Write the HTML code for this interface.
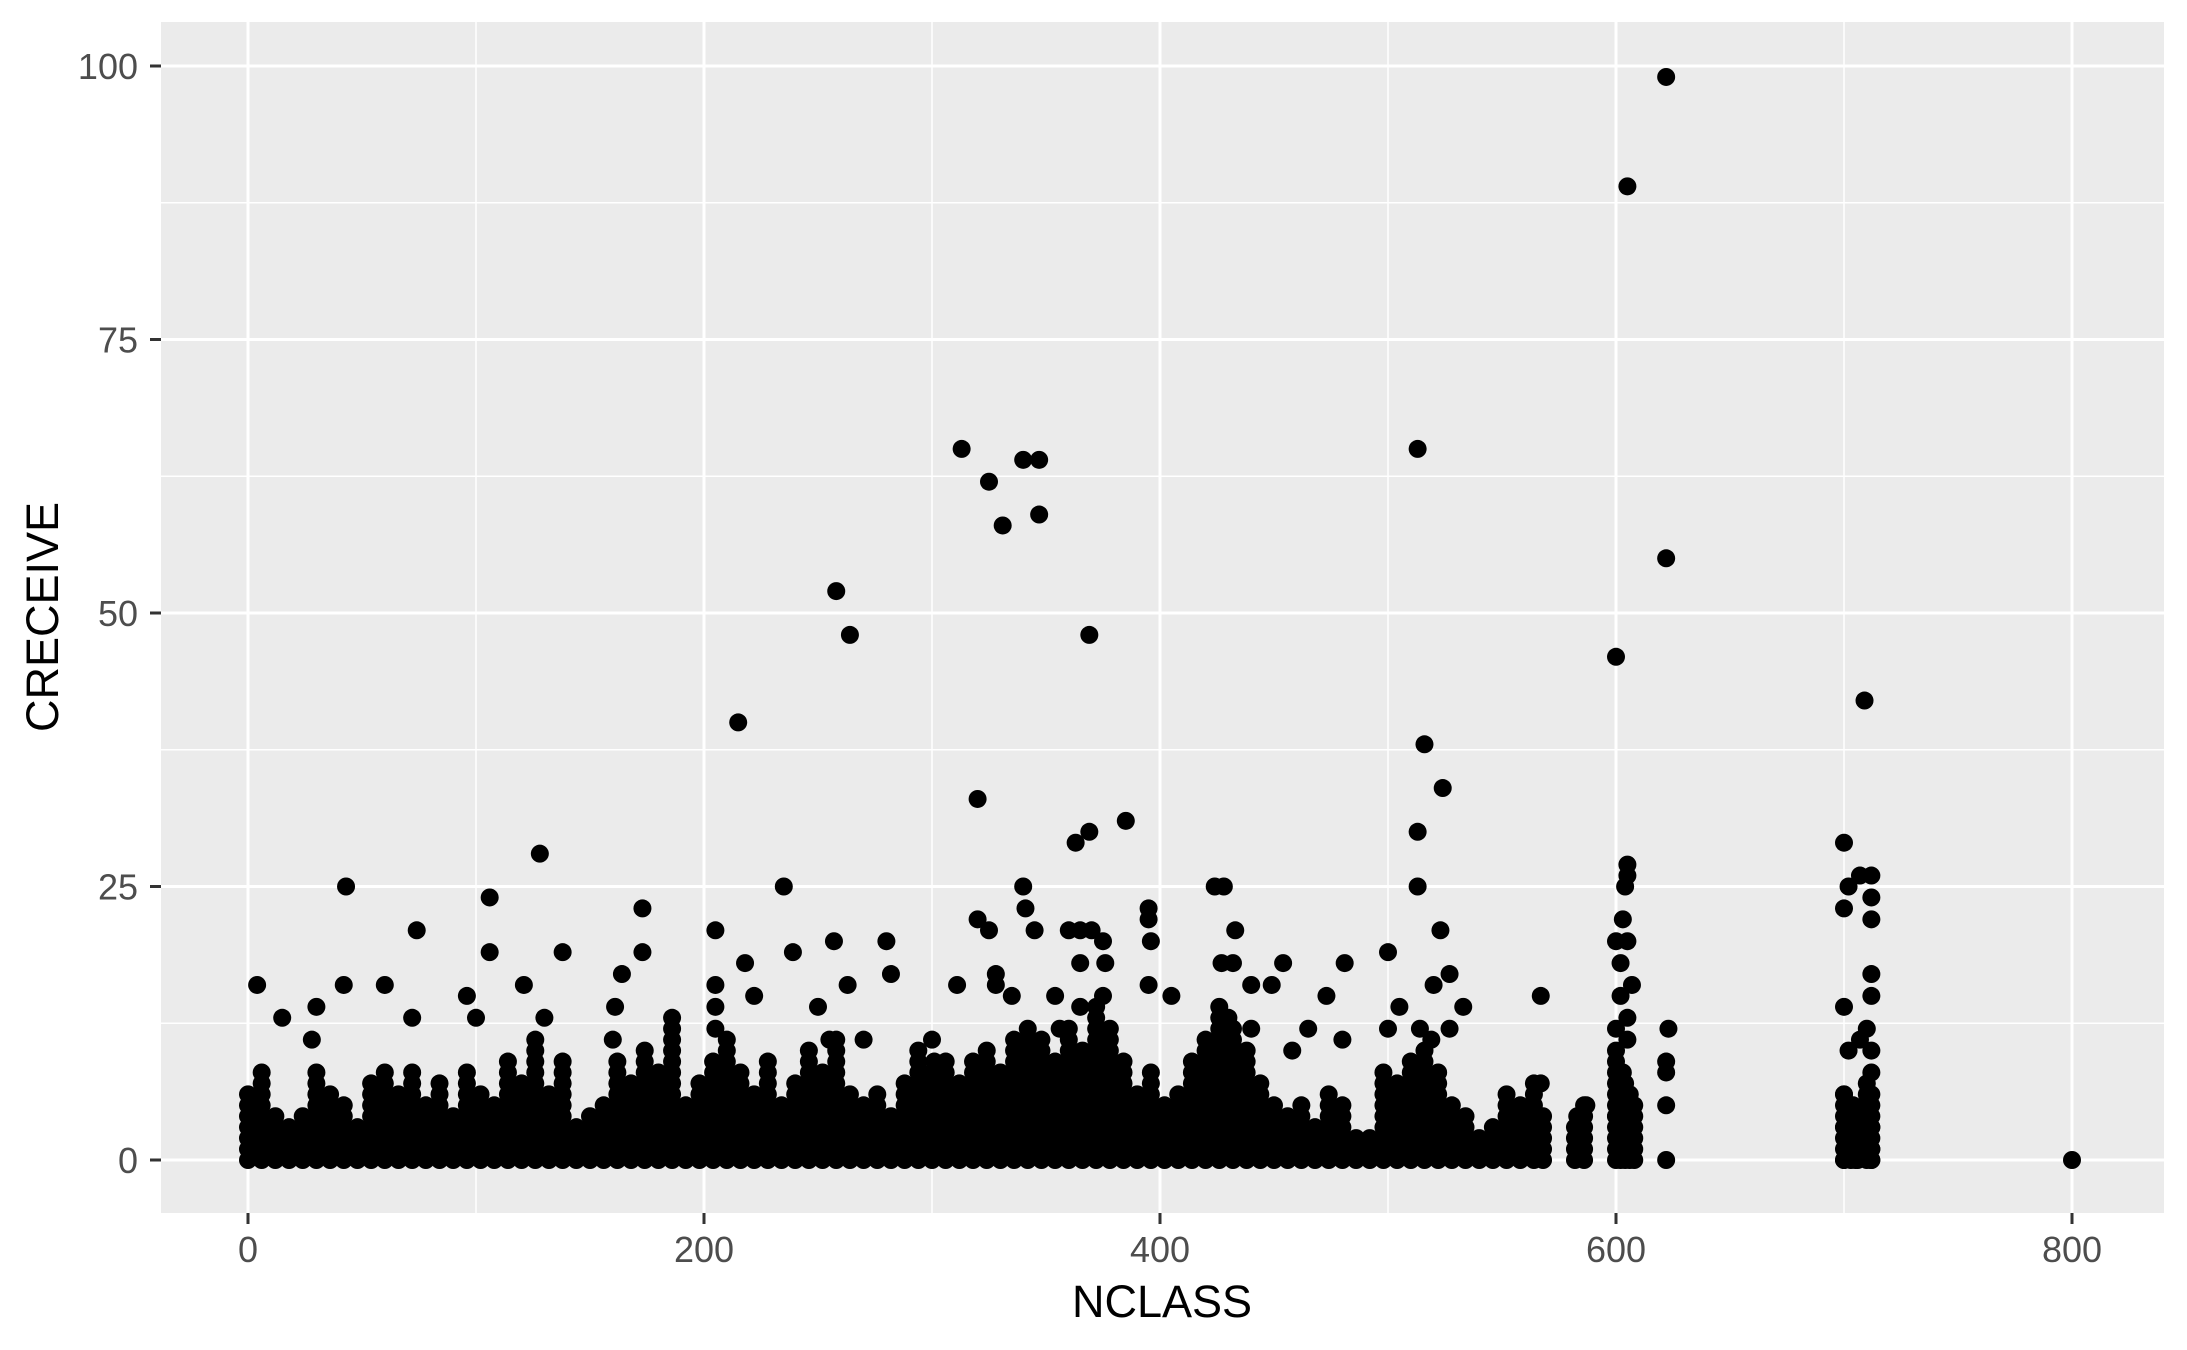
<!DOCTYPE html>
<html><head><meta charset="utf-8"><style>
html,body{margin:0;padding:0;background:#fff;}
svg{display:block;font-family:"Liberation Sans",Arial,sans-serif;}
</style></head><body>
<svg id="chart" width="2187" height="1350" viewBox="0 0 2187 1350" xmlns="http://www.w3.org/2000/svg">
<rect id="panel" fill="#EBEBEB"/>
<g id="grid"></g>
<g id="points"></g>
<g id="axes"></g>
<text x="1162" y="1317" font-size="45" text-anchor="middle" fill="#000">NCLASS</text>
<text x="0" y="0" font-size="45" text-anchor="middle" fill="#000" transform="translate(58,617) rotate(-90)">CRECEIVE</text>
</svg>
<script>
const xTicks=[0,200,400,600,800];
const yTicks=[0,25,50,75,100];
// dense band columns: x position and top value (points at every integer 0..top)
const bandX=[0,6,12,18,24,30,36,42,48,54,60,66,72,78,84,90,96,102,108,114,120,126,132,138,144,150,156,162,168,174,180,186,192,198,204,210,216,222,228,234,240,246,252,258,264,270,276,282,288,294,300,306,312,318,324,330,336,342,348,354,360,366,372,378,384,390,396,402,408,414,420,426,432,438,444,450,456,462,468,474,480,486,492,498,504,510,516,522,528,534,540,546,552,558,564,568,582,586,600,602,604,606,608,700,703,706,710,712];
const bandTop=[6,8,4,3,4,8,6,5,3,7,8,6,8,5,7,4,8,6,5,9,7,11,6,9,3,4,5,9,7,10,8,12,5,7,9,11,8,6,9,5,7,10,8,11,6,5,6,4,7,10,8,9,7,9,10,8,11,12,11,9,12,10,14,12,9,6,8,5,6,9,11,14,12,10,7,5,4,5,3,6,5,2,2,8,7,9,10,8,5,4,2,3,6,5,7,4,3,5,9,8,7,6,5,6,5,4,7,6];
// individual points
const ptX=[313,325,331,340,347,347,258,264,215,369,513,516,524,513,513,600,605,622,622,709,700,320,385,369,363,128,43,106,235,340,424,428,74,205,173,257,280,320,325,360,365,370,395,395,396,433,523,700,702,707,712,712,712,605,605,604,603,600,605,602,4,42,60,106,138,173,164,186,218,222,239,263,282,311,328,328,335,365,375,376,395,405,427,432,454,473,481,500,514,520,527,533,567,712,712,700,623,622,622,622,622,800,15,30,28,72,96,100,130,121,161,160,205,205,205,250,255,270,300,301,341,345,354,356,365,375,430,440,440,449,458,465,480,500,505,519,527,567,583,587,602,605,600,607,605,600,603,606,702,707,710,712,712,700,704,710,712,700,704,712,700,705,712,600,603,607,605];
const ptY=[65,62,58,64,64,59,52,48,40,48,65,38,34,30,25,46,89,99,55,42,29,33,31,30,29,28,25,24,25,25,25,25,21,21,23,20,20,22,21,21,21,21,23,22,20,21,21,23,25,26,26,24,22,27,26,25,22,20,20,18,16,16,16,19,19,19,17,13,18,15,19,16,17,16,17,16,15,18,20,18,16,15,18,18,18,15,18,19,12,16,17,14,15,17,15,14,12,9,8,5,0,0,13,14,11,13,15,13,13,16,14,11,16,14,12,14,11,11,11,9,23,21,15,12,14,15,13,16,12,16,10,12,11,12,14,11,12,7,4,5,15,13,12,16,11,10,8,6,10,11,12,10,8,6,5,5,3,3,2,1,0,0,0,4,2,1,3];

const NS="http://www.w3.org/2000/svg";
const L=161,R=2164,T=22,B=1213;
const X=v=>248+v*2.28;
const Y=v=>1160-v*10.94;
const RAD=9;
const svg=document.getElementById('chart');
const panel=document.getElementById('panel');
panel.setAttribute('x',L);panel.setAttribute('y',T);panel.setAttribute('width',R-L);panel.setAttribute('height',B-T);
function mk(tag,attrs,parent){const e=document.createElementNS(NS,tag);for(const k in attrs)e.setAttribute(k,attrs[k]);parent.appendChild(e);return e;}
const grid=document.getElementById('grid');
for(let i=0;i<xTicks.length-1;i++){
  const m=(xTicks[i]+xTicks[i+1])/2;
  const ln=mk('line',{x1:X(m),x2:X(m),y1:T,y2:B,stroke:'#fff','stroke-width':1.5},grid);
  
  
}
for(let i=0;i<yTicks.length-1;i++){
  const m=(yTicks[i]+yTicks[i+1])/2;
  const ln=mk('line',{x1:L,x2:R,y1:Y(m),y2:Y(m),stroke:'#fff','stroke-width':1.5},grid);
  
  
}
const axes=document.getElementById('axes');
xTicks.forEach(t=>{
  const ln=mk('line',{x1:X(t),x2:X(t),y1:T,y2:B,stroke:'#fff','stroke-width':3},grid);
  
  
  const tk=mk('line',{x1:X(t),x2:X(t),y1:B,y2:B+11,stroke:'#333','stroke-width':3},axes);
  
  
  const tx=mk('text',{x:X(t),y:1262,'font-size':36,'text-anchor':'middle',fill:'#4D4D4D'},axes);
  tx.textContent=t;
  
  
});
yTicks.forEach(t=>{
  const ln=mk('line',{x1:L,x2:R,y1:Y(t),y2:Y(t),stroke:'#fff','stroke-width':3},grid);
  
  
  const tk=mk('line',{x1:L-11,x2:L,y1:Y(t),y2:Y(t),stroke:'#333','stroke-width':3},axes);
  
  
  const tx=mk('text',{x:138,y:Y(t)+13,'font-size':36,'text-anchor':'end',fill:'#4D4D4D'},axes);
  tx.textContent=t;
  
  
});
const pts=document.getElementById('points');
bandX.forEach((x,i)=>{
  for(let v=0;v<=bandTop[i];v++){
    const c=mk('circle',{cx:X(x),cy:Y(v),r:RAD,fill:'#000'},pts);
    
    
  }
});
ptX.forEach((x,i)=>{
  const c=mk('circle',{cx:X(x),cy:Y(ptY[i]),r:RAD,fill:'#000'},pts);
  
  
});
</script>
</body></html>
